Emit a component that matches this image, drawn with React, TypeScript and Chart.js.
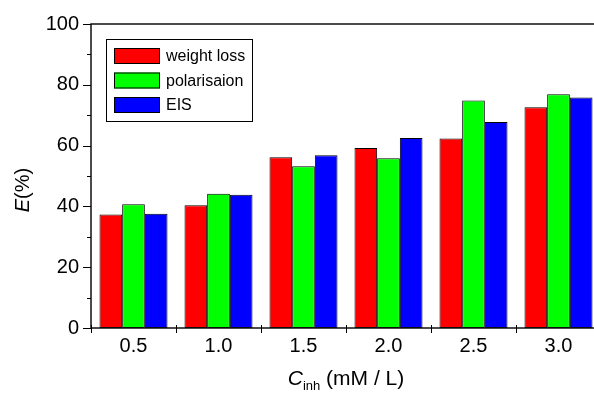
import React, { useEffect, useRef } from "react";
import { Chart, registerables } from "chart.js";

Chart.register(...registerables);

const categories = ["0.5", "1.0", "1.5", "2.0", "2.5", "3.0"];
const weightLoss = [37.3, 40.4, 56.2, 59.2, 62.3, 72.6];
const polarisation = [40.7, 44.2, 53.2, 55.8, 74.8, 76.9];
const eis = [37.6, 43.8, 56.8, 62.5, 67.8, 75.8];
const seriesLabels = ["weight loss", "polarisaion", "EIS"];
const seriesColors = ["#ff0000", "#00ff00", "#0000ff"];
const yTicks = [0, 20, 40, 60, 80, 100];

const FONT = "'Liberation Sans', Arial, Helvetica, sans-serif";

const decorPlugin = {
  id: "decor",
  beforeDatasetsDraw(chart: any) {
    const { ctx, chartArea } = chart;
    const xs = chart.scales.x;
    ctx.save();
    ctx.strokeStyle = "#000";
    ctx.lineWidth = 1;
    for (let i = 0; i < categories.length; i++) {
      const c = Math.round(xs.getPixelForValue(i)) + 0.5;
      ctx.beginPath();
      ctx.moveTo(c, chartArea.bottom);
      ctx.lineTo(c, chartArea.bottom - 3);
      ctx.stroke();
    }
    ctx.restore();
  },
  afterDraw(chart: any) {
    const { ctx, chartArea } = chart;
    const xs = chart.scales.x;
    const ys = chart.scales.y;
    ctx.save();
    // frame
    ctx.strokeStyle = "#111";
    ctx.lineWidth = 1.5;
    ctx.strokeRect(chartArea.left, chartArea.top, chartArea.right - chartArea.left, chartArea.bottom - chartArea.top);
    // y ticks
    ctx.lineWidth = 1;
    ctx.strokeStyle = "#000";
    for (let v = 0; v <= 100; v += 10) {
      const y = Math.round(ys.getPixelForValue(v)) + 0.5;
      const len = v % 20 === 0 ? 8 : 4;
      ctx.beginPath();
      ctx.moveTo(chartArea.left - len, y);
      ctx.lineTo(chartArea.left, y);
      ctx.stroke();
    }
    // x boundary ticks
    const w = xs.getPixelForValue(1) - xs.getPixelForValue(0);
    for (let i = 0; i <= categories.length; i++) {
      const x = Math.round(xs.getPixelForValue(i) - w / 2) + 0.5;
      ctx.beginPath();
      ctx.moveTo(x, chartArea.bottom - 3);
      ctx.lineTo(x, chartArea.bottom + 5);
      ctx.stroke();
    }
    // legend
    const lx = chartArea.left + 15;
    const ly = chartArea.top + 15;
    ctx.lineWidth = 1;
    ctx.strokeStyle = "#000";
    ctx.strokeRect(lx + 0.5, ly + 0.5, 146, 82);
    ctx.font = `16px ${FONT}`;
    ctx.textBaseline = "middle";
    ctx.textAlign = "left";
    chart.data.datasets.forEach((ds: any, i: number) => {
      const cy = ly + 17 + i * 24.5;
      ctx.fillStyle = ds.backgroundColor;
      ctx.fillRect(lx + 8, cy - 8, 46, 16);
      ctx.strokeRect(lx + 8.5, cy - 7.5, 45, 15);
      ctx.fillStyle = "#000";
      ctx.fillText(ds.label, lx + 60, cy + 1);
    });
    // x title
    const cx = (chartArea.left + chartArea.right) / 2;
    const base = 385;
    ctx.textBaseline = "alphabetic";
    const p1 = "C";
    const p2 = "inh";
    const p3 = " (mM / L)";
    ctx.font = `italic 21px ${FONT}`;
    const w1 = ctx.measureText(p1).width;
    ctx.font = `13px ${FONT}`;
    const w2 = ctx.measureText(p2).width;
    ctx.font = `21px ${FONT}`;
    const w3 = ctx.measureText(p3).width;
    let sx = cx - (w1 + w2 + w3) / 2;
    ctx.font = `italic 21px ${FONT}`;
    ctx.fillText(p1, sx, base);
    sx += w1;
    ctx.font = `13px ${FONT}`;
    ctx.fillText(p2, sx, base + 5);
    sx += w2;
    ctx.font = `21px ${FONT}`;
    ctx.fillText(p3, sx, base);
    // y title
    ctx.translate(23, 190);
    ctx.rotate(-Math.PI / 2);
    ctx.textBaseline = "middle";
    ctx.font = `italic 20px ${FONT}`;
    const e1 = "E";
    const e2 = "(%)";
    const we1 = ctx.measureText(e1).width;
    ctx.font = `20px ${FONT}`;
    const we2 = ctx.measureText(e2).width;
    let ex = -(we1 + we2) / 2;
    ctx.font = `italic 20px ${FONT}`;
    ctx.fillText(e1, ex, 0);
    ex += we1;
    ctx.font = `20px ${FONT}`;
    ctx.fillText(e2, ex, 0);
    ctx.restore();
  },
};

export default function App() {
  const ref = useRef<HTMLCanvasElement>(null);
  useEffect(() => {
    if (!ref.current) return;
    const mk = (label: string, data: number[], color: string) => ({
      label,
      data,
      backgroundColor: color,
      borderColor: "#000",
      borderWidth: 1,
      borderSkipped: false as any,
      categoryPercentage: 0.8,
      barPercentage: 1.0,
    });
    const chart = new Chart(ref.current, {
      type: "bar",
      data: {
        labels: categories,
        datasets: [
          mk(seriesLabels[0], weightLoss, seriesColors[0]),
          mk(seriesLabels[1], polarisation, seriesColors[1]),
          mk(seriesLabels[2], eis, seriesColors[2]),
        ],
      },
      options: {
        responsive: false,
        animation: false,
        devicePixelRatio: 1,
        layout: { padding: { left: 0, right: 19, top: 13, bottom: 0 } },
        plugins: { legend: { display: false }, tooltip: { enabled: false } },
        scales: {
          x: {
            grid: { display: false, drawTicks: false },
            border: { display: false },
            ticks: { color: "#000", font: { family: FONT, size: 20 }, padding: 6 },
            afterFit: (s: any) => {
              s.height = 66;
            },
          },
          y: {
            min: 0,
            max: 100,
            afterBuildTicks: (s: any) => {
              s.ticks = yTicks.map((v) => ({ value: v }));
            },
            grid: { display: false, drawTicks: false },
            border: { display: false },
            ticks: { color: "#000", font: { family: FONT, size: 20 }, padding: 12 },
            afterFit: (s: any) => {
              s.width = 91;
            },
          },
        },
      },
      plugins: [decorPlugin],
    });
    return () => chart.destroy();
  }, []);
  return (
    <div style={{ position: "fixed", left: 0, top: 0, width: 594, height: 394, overflow: "hidden", background: "#fff" }}>
      <canvas ref={ref} width={620} height={394} style={{ display: "block" }} />
    </div>
  );
}
